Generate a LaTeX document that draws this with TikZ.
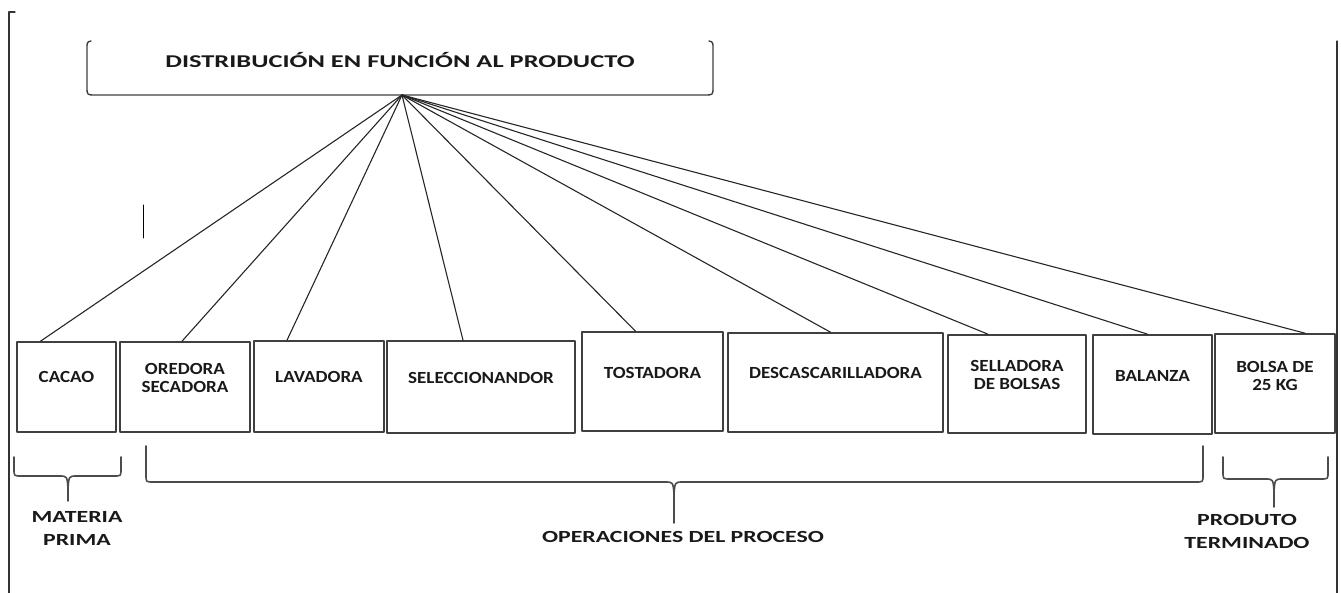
\documentclass[tikz,border=0pt]{standalone}
\usepackage{fontspec}
\setmainfont{Carlito}[FakeStretch=1.12]
\newfontfamily\anchafont{Carlito}[FakeStretch=1.4]
\newfontfamily\titfont{Carlito}[FakeStretch=1.47]
\usetikzlibrary{positioning}

\tikzset{
  maq/.style={draw=black!75,line width=1.6pt,rectangle,inner sep=0pt},
  rot/.style={font=\bfseries\fontsize{17}{18}\selectfont,align=center,text=black!90,inner sep=0pt},
  rotb/.style={rot,font=\anchafont\bfseries\fontsize{17}{23}\selectfont},
  linea/.style={line width=1.1pt,color=black!85},
  llave/.style={line width=1.6pt,color=black!70}
}

\begin{document}
\begin{tikzpicture}[line cap=round,line join=round,x=1pt,y=-1pt]
\useasboundingbox (0,0) rectangle (1341,593);
% marco de la hoja
\draw[line width=1.3pt,color=black!80] (15,12) -- (9,12) -- (9,593);
\draw[line width=1.3pt,color=black!80] (1337,41) -- (1337,593);
\draw[line width=1pt] (143,205) -- (143,238);
% recuadro del titulo
\draw[line width=1.4pt,color=black!75] (91,41) .. controls (87,42) .. (87,49) -- (87,87)
  .. controls (87,95) .. (95,95) -- (705,95) .. controls (713,95) .. (713,87) -- (713,49)
  .. controls (713,42) .. (709,41);
\node[rot,font=\titfont\bfseries\fontsize{18}{20}\selectfont] (titulo) at (400,60) {DISTRIBUCIÓN EN FUNCIÓN AL PRODUCTO};
\coordinate (hub) at (402,95);
% maquinas
\foreach \n/\x/\y/\w/\h/\d/\ty/\t in {
  cacao/66.5/387/99/90/-26/377/CACAO,
  oredora/185/387/130/90/-3/378/OREDORA\\SECADORA,
  lavadora/319/386.5/130/91/-32/377/LAVADORA,
  selecc/481/387/188/92/-18/378/SELECCIONANDOR,
  tostadora/652.5/381.5/141/99/-17/373/TOSTADORA,
  desc/835.5/382.5/215/99/-5/373/DESCASCARILLADORA,
  selladora/1017/384/138/98/-29/375/SELLADORA\\DE BOLSAS,
  balanza/1152.5/384.5/119/99/-5/376/BALANZA,
  bolsa/1275/383.5/120/99/30/376/BOLSA DE\\25 KG}
{
  \node[maq,minimum width=\w,minimum height=\h] (\n) at (\x,\y) {};
  \node[rot] (t\n) at (\x,\ty) {\t};
  \draw[linea] (hub) -- ([xshift=\d pt]\n.north);
}
% llaves
\foreach \a/\b/\m/\s/\h/\p in {14/121/68/457/476/501, 146/1203/674/446/482/523, 1223/1328/1274/457/479/507}
{
  \draw[llave] (\a,\s) -- (\a,\h-7) .. controls (\a,\h) .. (\a+7,\h) -- (\m-9,\h)
    .. controls (\m-1,\h) .. (\m,\h+12) -- (\m,\p);
  \draw[llave] (\m,\h+12) .. controls (\m+1,\h) .. (\m+9,\h) -- (\b-7,\h)
    .. controls (\b,\h) .. (\b,\h-7) -- (\b,\s);
}
\node[rotb] (materia) at (77,528) {MATERIA\\PRIMA};
\node[rotb] (operaciones) at (683,537) {OPERACIONES DEL PROCESO};
\node[rotb] (producto) at (1247,531) {PRODUTO\\TERMINADO};
\end{tikzpicture}
\end{document}
